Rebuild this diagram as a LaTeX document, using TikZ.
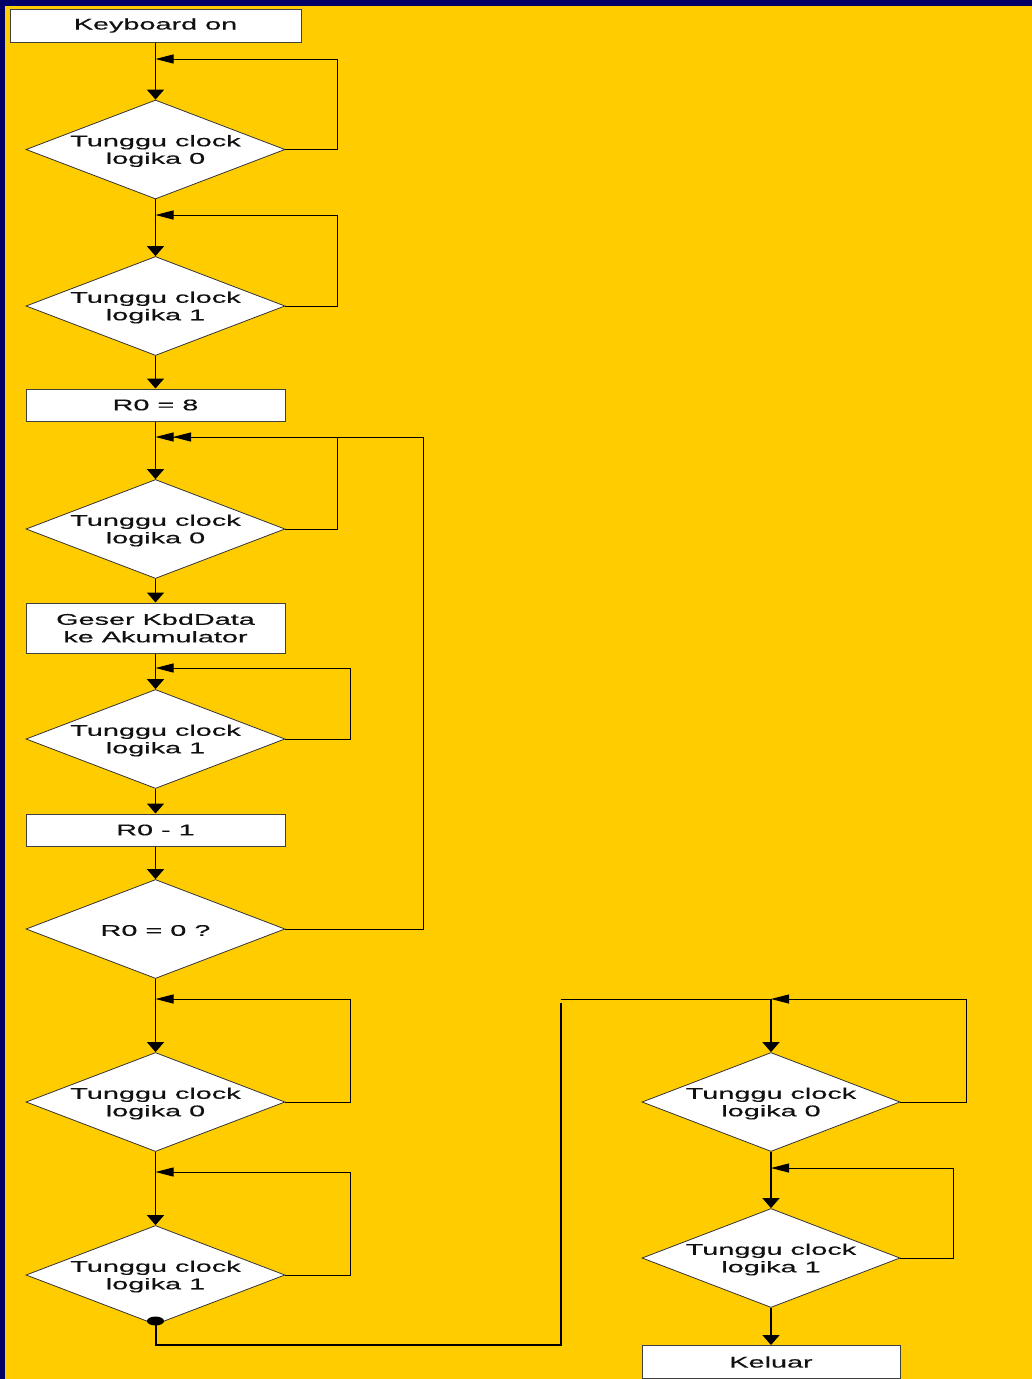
\documentclass[tikz,border=0pt]{standalone}
\usepackage{fontspec}
\setmainfont[FakeStretch=1.86,FakeBold=0.35]{Liberation Sans}
\usetikzlibrary{arrows.meta,shapes.geometric}
\definecolor{bgyellow}{HTML}{FFCC00}
\definecolor{navy}{HTML}{000066}
\definecolor{ink}{HTML}{111111}
\begin{document}
\begin{tikzpicture}[x=1pt,y=-1pt,
  txt/.style={font=\fontsize{15.5}{17.5}\selectfont, text=ink, align=center},
  box/.style={draw=black!75, line width=1pt, fill=white, minimum height=32pt, inner sep=0pt, txt},
  dia/.style={diamond, draw=black!80, line width=0.8pt, fill=white, minimum width=259pt, minimum height=99pt, inner sep=0pt},
  lab/.style={txt, inner sep=0pt, yshift=-1.5pt},
  main/.style={line width=1.6pt, draw=black},
  lp/.style={line width=1pt, draw=black},
  vtip/.tip={Triangle[width=17pt,length=10pt]},
  htip/.tip={Triangle[width=9pt,length=18pt]},
  dotnode/.style={ellipse, fill=black, minimum width=17pt, minimum height=9pt, inner sep=0pt}
]
\useasboundingbox (0,0) rectangle (1032,1379);
\fill[bgyellow] (0,0) rectangle (1032,1379);
\fill[navy] (0,0) rectangle (5,1379);
\fill[navy] (0,0) rectangle (1032,6);

% left column
\node[box, minimum width=291pt, minimum height=33pt] (kb) at (155.5,25.5) {\raisebox{-1.5pt}{Keyboard on}};
\node[dia, label={[lab]center:Tunggu clock\\logika 0}] (d1) at (155.5,149.5) {};
\node[dia, label={[lab]center:Tunggu clock\\logika 1}] (d2) at (155.5,306) {};
\node[box, minimum width=259pt] (r8) at (155.5,405) {R0 = 8};
\node[dia, label={[lab]center:Tunggu clock\\logika 0}] (d3) at (155.5,529) {};
\node[box, minimum width=259pt, minimum height=50pt] (gs) at (155.5,628) {Geser KbdData\\ke Akumulator};
\node[dia, label={[lab]center:Tunggu clock\\logika 1}] (d4) at (155.5,739) {};
\node[box, minimum width=259pt] (r1) at (155.5,830) {R0 - 1};
\node[dia, label={[lab]center:R0 = 0 ?}] (d5) at (155.5,929) {};
\node[dia, label={[lab]center:Tunggu clock\\logika 0}] (d6) at (155.5,1102) {};
\node[dia, label={[lab]center:Tunggu clock\\logika 1}] (d7) at (155.5,1275) {};

% right column
\node[dia, minimum width=258pt, label={[lab]center:Tunggu clock\\logika 0}] (d8) at (771,1102) {};
\node[dia, minimum width=258pt, label={[lab]center:Tunggu clock\\logika 1}] (d9) at (771,1258) {};
\node[box, minimum width=258pt, minimum height=33pt] (kl) at (771,1362) {Keluar};

% return points
\coordinate (c1) at (155.5,59);
\coordinate (c2) at (155.5,215);
\coordinate (c3) at (155.5,437);
\coordinate (c3b) at (173,437);
\coordinate (c4) at (155.5,668);
\coordinate (c6) at (155.5,999);
\coordinate (c7) at (155.5,1172);
\coordinate (j) at (771,999);
\coordinate (jb) at (560.5,999);
\coordinate (c9) at (771,1168);

% main flow
\draw[main,-vtip] (kb) -- (d1);
\draw[main,-vtip] (d1) -- (d2);
\draw[main,-vtip] (d2) -- (r8);
\draw[main,-vtip] (r8) -- (d3);
\draw[main,-vtip] (d3) -- (gs);
\draw[main,-vtip] (gs) -- (d4);
\draw[main,-vtip] (d4) -- (r1);
\draw[main,-vtip] (r1) -- (d5);
\draw[main,-vtip] (d5) -- (d6);
\draw[main,-vtip] (d6) -- (d7);
\draw[main,-vtip] (j) -- (d8);
\draw[main,-vtip] (d8) -- (d9);
\draw[main,-vtip] (d9) -- (kl);

% waiting loops
\draw[lp,-htip] (d1.east) -- ++(52,0) |- (c1);
\draw[lp,-htip] (d2.east) -- ++(52,0) |- (c2);
\draw[lp,-htip] (d3.east) -- ++(52,0) |- (c3);
\draw[lp,-htip] (d5.east) -- ++(138,0) |- (c3b);
\draw[lp,-htip] (d4.east) -- ++(65,0) |- (c4);
\draw[lp,-htip] (d6.east) -- ++(65,0) |- (c6);
\draw[lp,-htip] (d7.east) -- ++(65,0) |- (c7);
\draw[lp,-htip] (d8.east) -- ++(66,0) |- (j);
\draw[lp,-htip] (d9.east) -- ++(53,0) |- (c9);

% exit path to right column
\node[dotnode] (dt) at (155.5,1321) {};
\draw[line width=2pt] (dt.center) -- (155.5,1345) -- (560.5,1345) -- (560.5,1003);
\draw[lp] (jb) -- (j);
\end{tikzpicture}
\end{document}
